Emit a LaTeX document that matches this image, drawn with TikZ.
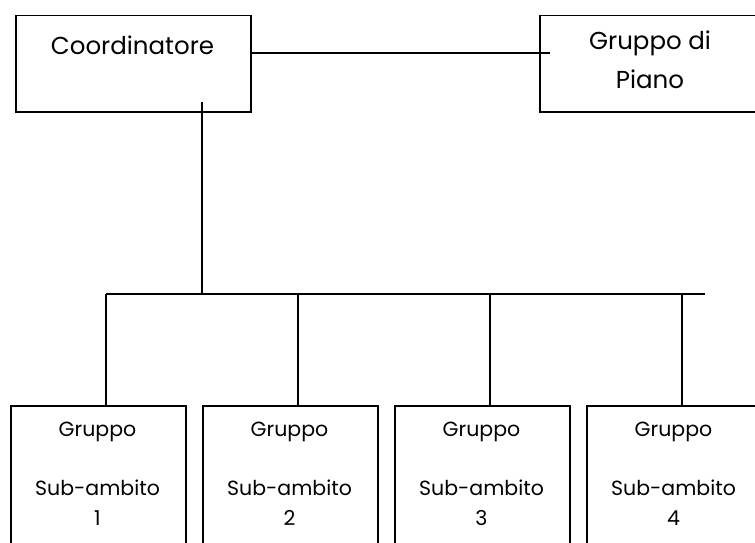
\documentclass[tikz,border=0pt]{standalone}
\usepackage{fontspec}
\setmainfont{Poppins}
\begin{document}
\begin{tikzpicture}[x=1pt,y=-1pt,
  box/.style={draw=black,line width=1.5pt,rectangle,inner sep=0pt,anchor=north west},
  lbl/.style={font=\fontsize{20.5}{24}\selectfont,inner sep=0pt,anchor=center},
  toplbl/.style={font=\fontsize{24.5}{28}\selectfont,inner sep=0pt,anchor=center},
  conn/.style={draw=black,line width=1.5pt}]
\useasboundingbox (0,0) rectangle (755,543);
\clip (0,0) rectangle (755,543);
% top boxes
\node[box,minimum width=235pt,minimum height=96pt] (coord) at (15,15) {};
\node[box,minimum width=225pt,minimum height=96pt] (piano) at (539,15) {};
\node[toplbl] (tcoord) at (132.5,45) {Coordinatore};
\node[toplbl] (tpiano1) at (650,43) {Gruppo di};
\node[toplbl] (tpiano2) at (650,79) {Piano};
% bottom boxes
\foreach \i/\x in {1/10,2/202,3/394,4/586}{
  \node[box,minimum width=175pt,minimum height=160pt] (s\i) at (\x,405) {};
  \node[lbl] (g\i) at ([xshift=87.5pt]\x,432) {Gruppo};
  \node[lbl] (a\i) at ([xshift=87.5pt]\x,488) {Sub-ambito};
  \node[lbl] (n\i) at ([xshift=87.5pt]\x,518) {\i};
}
% connectors
\coordinate (pend) at (550,53);
\coordinate (cstart) at (202,102);
\coordinate (bus) at (202,294);
\coordinate (busL) at (106,294);
\coordinate (busR) at (705,294);
\draw[conn] (coord.east |- pend) -- (pend);
\draw[conn] (cstart) -- (bus);
\draw[conn] (busL) -- (busR);
\draw[conn] (busL) -- (busL |- s1.north);
\draw[conn] (298,294) coordinate (d2) -- (d2 |- s2.north);
\draw[conn] (490,294) coordinate (d3) -- (d3 |- s3.north);
\draw[conn] (682,294) coordinate (d4) -- (d4 |- s4.north);
\end{tikzpicture}
\end{document}
